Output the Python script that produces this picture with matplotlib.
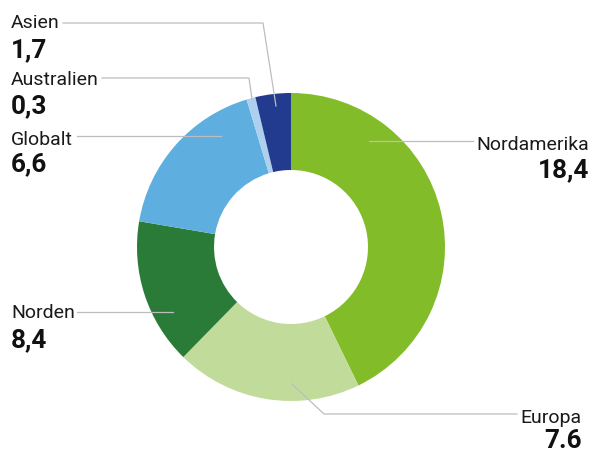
import matplotlib.pyplot as plt

plt.rcParams['font.family'] = ['Roboto', 'DejaVu Sans']

regions = ['Nordamerika', 'Europa', 'Norden', 'Globalt', 'Australien', 'Asien']
# slice sizes as drawn in the picture (arc lengths), labels as printed
slice_sizes = [18.4, 8.4, 6.6, 7.6, 0.4, 1.6]
value_labels = ['18,4', '7.6', '8,4', '6,6', '0,3', '1,7']
colors = ['#82bc29', '#c1dc9a', '#2b7b38', '#5faee0', '#aed0ee', '#223b8f']

W, H = 593, 452


def py(y):
    # pixel row (from top) -> data y
    return H - y


fig = plt.figure(figsize=(W / 100, H / 100), dpi=100)
ax = fig.add_axes([0, 0, 1, 1])

ax.pie(slice_sizes, colors=colors, startangle=90, counterclock=False,
       center=(291, py(248)), radius=154,
       wedgeprops=dict(width=77, linewidth=0))

ax.set_xlim(0, W)
ax.set_ylim(0, H)
ax.set_aspect('equal')
ax.axis('off')

# label layout: (text x, name baseline, value baseline, ha, leader path)
layout = {
    'Asien': (11, 28, 57, 'left', [(63, 24), (263, 24), (276, 107)]),
    'Australien': (11, 85, 113, 'left', [(102, 79), (249, 79), (252, 100)]),
    'Globalt': (11, 145, 171, 'left', [(77, 137), (221, 137)]),
    'Norden': (11, 318, 347, 'left', [(77, 313), (173, 313)]),
    'Nordamerika': (589, 150, 177, 'right', [(473, 142), (369, 142)]),
    'Europa': (582, 423, 448, 'right', [(517, 415), (324, 415), (292, 385)]),
}

line_col = '#bdbdbd'
for name, val in zip(regions, value_labels):
    x, yb1, yb2, ha, path = layout[name]
    ax.text(x, py(yb1), name, ha=ha, va='baseline', fontsize=14, color='#1a1a1a')
    ax.text(x, py(yb2), val, ha=ha, va='baseline', fontsize=18.8, fontweight='bold', color='#111111')
    ax.plot([p[0] for p in path], [py(p[1]) for p in path], color=line_col, lw=0.9)

fig.savefig('out.png', dpi=100)
